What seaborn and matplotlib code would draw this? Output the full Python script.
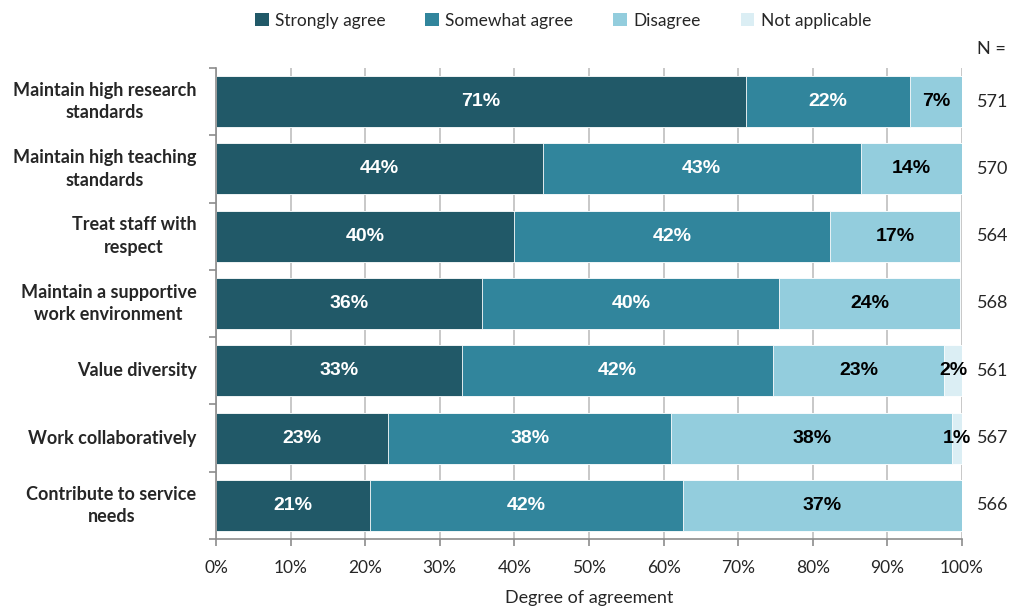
import matplotlib
matplotlib.use("Agg")
import matplotlib.pyplot as plt
import seaborn as sns
import numpy as np
import pandas as pd
from matplotlib.patches import Patch
from matplotlib.ticker import FixedLocator, PercentFormatter

categories = [
    "Maintain high research\nstandards",
    "Maintain high teaching\nstandards",
    "Treat staff with\nrespect",
    "Maintain a supportive\nwork environment",
    "Value diversity",
    "Work collaboratively",
    "Contribute to service\nneeds",
]
series_names = ["Strongly agree", "Somewhat agree", "Disagree", "Not applicable"]
strongly_agree = [71.0, 43.8, 39.9, 35.7, 33.0, 23.1, 20.6]
somewhat_agree = [22.0, 42.6, 42.4, 39.8, 41.7, 37.9, 42.0]
disagree = [7.0, 13.6, 17.4, 24.2, 22.9, 37.7, 37.4]
not_applicable = [0.0, 0.0, 0.0, 0.0, 2.4, 1.3, 0.0]
n_values = [571, 570, 564, 568, 561, 567, 566]
x_ticks = [0, 10, 20, 30, 40, 50, 60, 70, 80, 90, 100]

colors = ["#215968", "#31859C", "#93CDDD", "#DBEEF4"]
label_colors = ["white", "white", "black", "black"]

sns.set_theme(style="white")
plt.rcParams["font.family"] = ["Lato", "DejaVu Sans"]

fig = plt.figure(figsize=(10.16, 6.06), dpi=100)
ax = fig.add_axes([216 / 1016, (606 - 539) / 606, 746 / 1016, 471 / 606])

series = [strongly_agree, somewhat_agree, disagree, not_applicable]
cums = np.cumsum(np.array(series), axis=0)
df = pd.DataFrame({"category": categories})

# draw cumulative layers from the outermost inward
for i in range(len(series) - 1, -1, -1):
    df["val"] = cums[i]
    sns.barplot(data=df, x="val", y="category", orient="h", color=colors[i],
                saturation=1, width=0.76, ax=ax, edgecolor="white", linewidth=0.6,
                order=categories)

ax.set_xlim(0, 100)
ax.set_ylim(len(categories) - 0.5, -0.5)

# value labels
for i, vals in enumerate(series):
    starts = cums[i] - np.array(vals)
    for j, v in enumerate(vals):
        if v <= 0:
            continue
        ax.text(starts[j] + v / 2, j, f"{int(v + 0.5):d}%", ha="center", va="center",
                color=label_colors[i], fontsize=14, fontweight="bold",
                family=["Liberation Sans", "DejaVu Sans"])

# grid
ax.xaxis.set_major_locator(FixedLocator(x_ticks))
ax.xaxis.set_major_formatter(PercentFormatter(decimals=0))
ax.grid(axis="x", color="#BFBFBF", linewidth=1.2)
ax.set_axisbelow(True)

for s in ["top", "right"]:
    ax.spines[s].set_visible(False)
for s in ["left", "bottom"]:
    ax.spines[s].set_visible(True)
    ax.spines[s].set_color("#8C8C8C")
    ax.spines[s].set_linewidth(1.2)

ax.tick_params(axis="x", which="major", direction="out", length=5, width=1.2,
               color="#8C8C8C", labelsize=12.5, pad=10, bottom=True)
ax.tick_params(axis="y", which="major", length=0, pad=14)
ax.yaxis.set_minor_locator(FixedLocator(np.arange(-0.5, len(categories) + 0.5, 1)))
ax.tick_params(axis="y", which="minor", direction="out", length=5, width=1.2,
               color="#8C8C8C", left=True)
for lab in ax.get_yticklabels():
    lab.set_fontweight("bold")
    lab.set_fontsize(13)
    lab.set_multialignment("center")
    lab.set_linespacing(1.4)
    lab.set_verticalalignment("center")

ax.set_ylabel("")
ax.set_xlabel("Degree of agreement", fontsize=13, labelpad=10)

# N values
ax.text(1.039, 1.04, "N =", transform=ax.transAxes, ha="center", va="center", fontsize=13)
trans = matplotlib.transforms.blended_transform_factory(ax.transAxes, ax.transData)
for j, n in enumerate(n_values):
    ax.text(1.02, j, str(n), transform=trans, ha="left", va="center", fontsize=13)

handles = [Patch(facecolor=c, edgecolor="none") for c in colors]
fig.legend(handles, series_names, loc="center", bbox_to_anchor=(0.554, 0.966), ncol=4,
           frameon=False, fontsize=12.5, handlelength=0.8, handleheight=0.8,
           handletextpad=0.35, columnspacing=2.3)

fig.savefig("out.png", dpi=100)
